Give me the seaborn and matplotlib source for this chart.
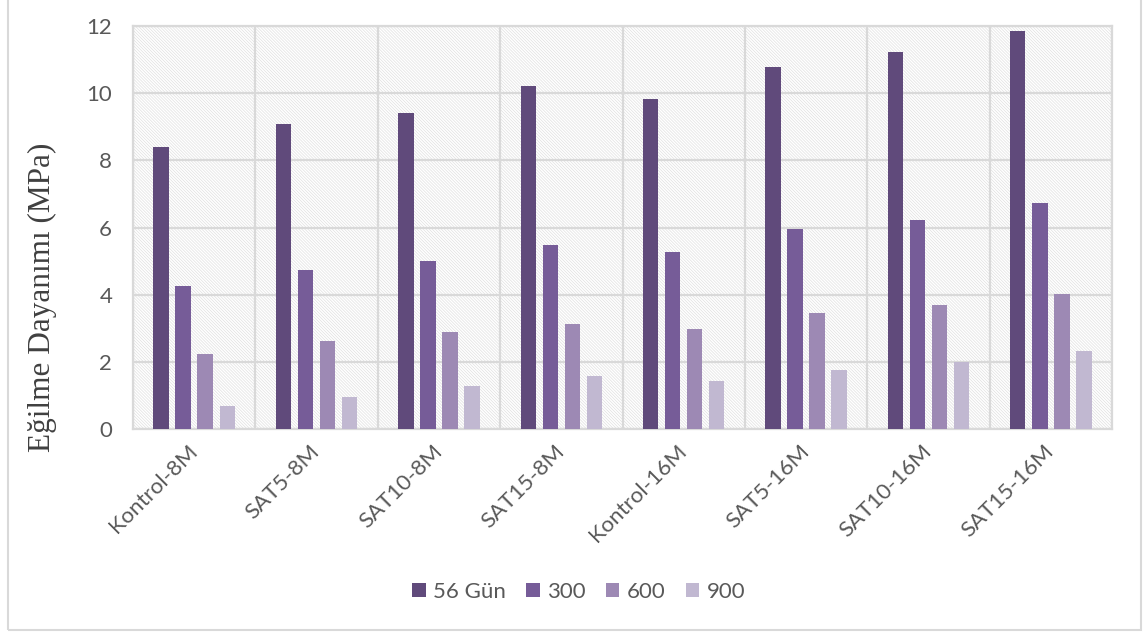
import matplotlib
matplotlib.use("Agg")
import matplotlib.pyplot as plt
from matplotlib.patches import Rectangle
import seaborn as sns
import pandas as pd
import numpy as np

# Flexural strength per mix and exposure temperature
categories = ["Kontrol-8M", "SAT5-8M", "SAT10-8M", "SAT15-8M",
              "Kontrol-16M", "SAT5-16M", "SAT10-16M", "SAT15-16M"]
series_names = ["56 Gün", "300", "600", "900"]
vals_56 = [8.40, 9.08, 9.41, 10.21, 9.83, 10.78, 11.22, 11.85]
vals_300 = [4.27, 4.73, 5.00, 5.48, 5.27, 5.96, 6.21, 6.73]
vals_600 = [2.23, 2.63, 2.89, 3.13, 2.98, 3.45, 3.68, 4.01]
vals_900 = [0.68, 0.96, 1.28, 1.59, 1.43, 1.76, 2.00, 2.32]
colors = ["#604A7B", "#765C98", "#9D89B4", "#C1B8D1"]
y_ticks = [0, 2, 4, 6, 8, 10, 12]

rows = []
for name, vals in zip(series_names, [vals_56, vals_300, vals_600, vals_900]):
    for cat, v in zip(categories, vals):
        rows.append({"Karışım": cat, "Seri": name, "Değer": v})
df = pd.DataFrame(rows)

sns.set_theme(style="white")
plt.rcParams["font.family"] = ["Lato", "DejaVu Sans"]
plt.rcParams["hatch.linewidth"] = 0.5

fig = plt.figure(figsize=(11.48, 6.32), dpi=100)
ax = fig.add_axes([133 / 1148, 1 - 429 / 632, (1112 - 133) / 1148, (429 - 26) / 632])

# Hatched plot-area background
bg = Rectangle((0, 0), 1, 1, transform=ax.transAxes, facecolor="white",
               edgecolor="#e0e0e0", linewidth=0, hatch="\\" * 11, zorder=0)
ax.add_patch(bg)
ax.patch.set_alpha(0)

sns.barplot(data=df, x="Karışım", y="Değer", hue="Seri", order=categories,
            hue_order=series_names, palette=colors, width=0.72, gap=0.3,
            saturation=1, linewidth=0, edgecolor="none", ax=ax, zorder=3,
            legend=True)

ax.set_xlim(-0.5, len(categories) - 0.5)
ax.set_ylim(0, 12)
ax.set_yticks(y_ticks)
ax.set_yticklabels([str(t) for t in y_ticks])

# Gridlines: horizontal at majors, vertical at category boundaries
ax.set_xticks(np.arange(len(categories) + 1) - 0.5, minor=True)
ax.grid(axis="y", which="major", color="#d9d9d9", linewidth=1.6, zorder=1)
ax.grid(axis="x", which="minor", color="#d9d9d9", linewidth=1.6, zorder=1)
ax.set_axisbelow(True)

for s in ax.spines.values():
    s.set_color("#d9d9d9")
    s.set_linewidth(1.6)
    s.set_visible(True)

ax.tick_params(axis="both", which="both", length=0, colors="#595959", labelsize=16)
ax.tick_params(axis="y", pad=15)
ax.tick_params(axis="x", pad=14)
for lbl in ax.get_xticklabels():
    lbl.set_rotation(45)
    lbl.set_ha("right")
    lbl.set_va("center")
    lbl.set_rotation_mode("anchor")

ax.set_xlabel("")
ax.set_ylabel("")
fig.text(42 / 1148, 1 - 297 / 632, "Eğilme Dayanımı (MPa)", rotation=90,
         ha="center", va="center", fontsize=22.5, color="#404040",
         family=["Liberation Serif", "DejaVu Serif"])

handles, labels = ax.get_legend_handles_labels()
ax.get_legend().remove()
fig.legend(handles, labels, loc="center", bbox_to_anchor=(579 / 1148, 1 - 592 / 632),
           ncol=4, frameon=False, fontsize=16, handlelength=0.6, handleheight=0.6,
           handletextpad=0.35, columnspacing=0.9, labelcolor="#595959")

# Chart frame
frame = Rectangle((8 / 1148, 1 - 630 / 632), (1141 - 8) / 1148, 1.2,
                  transform=fig.transFigure, facecolor="none", edgecolor="#d9d9d9",
                  linewidth=1.5, clip_on=False)
fig.patches.append(frame)

fig.savefig("out.png", dpi=100)
